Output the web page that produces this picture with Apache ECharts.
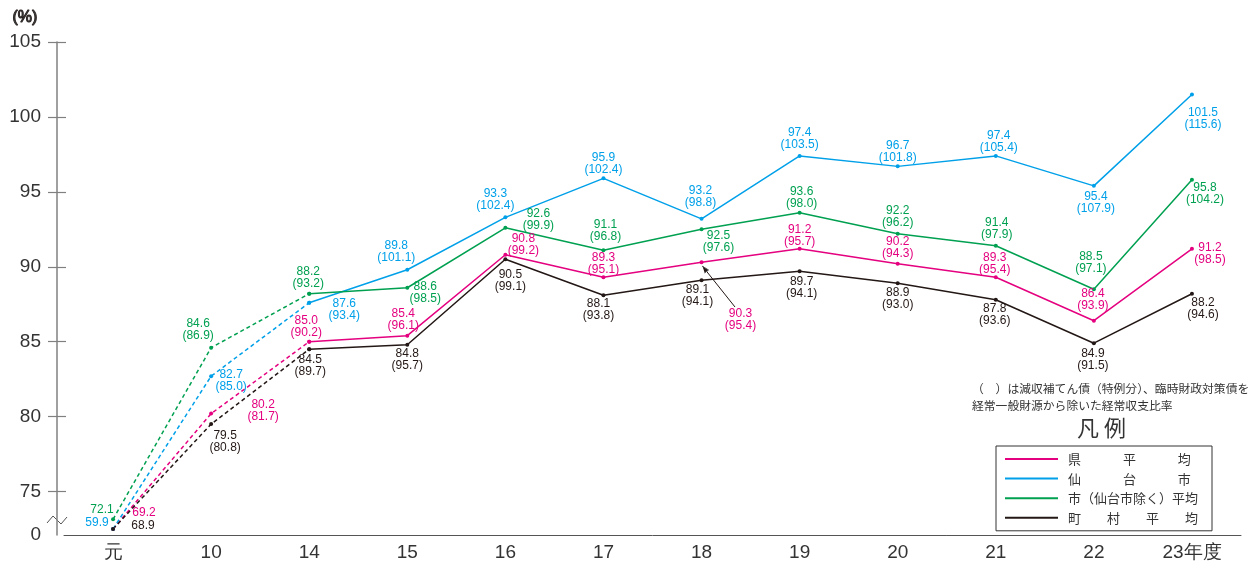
<!DOCTYPE html>
<html>
<head>
<meta charset="utf-8">
<script src="https://cdn.jsdelivr.net/npm/echarts@6/dist/echarts.min.js"></script>
<style>
  html, body { margin: 0; padding: 0; background: #fff; }
  #chart { width: 1251px; height: 562px; }
</style>
</head>
<body>
<div id="chart"></div>
<script>
  // 年度
  var years = ['元', '10', '14', '15', '16', '17', '18', '19', '20', '21', '22', '23年度'];

  // 経常収支比率 と （ ）内の値
  var kenAvg      = [69.2, 80.2, 85.0, 85.4, 90.8, 89.3, 90.3, 91.2, 90.2, 89.3, 86.4, 91.2];
  var kenAvgEx    = [null, 81.7, 90.2, 96.1, 99.2, 95.1, 95.4, 95.7, 94.3, 95.4, 93.9, 98.5];
  var sendai      = [59.9, 82.7, 87.6, 89.8, 93.3, 95.9, 93.2, 97.4, 96.7, 97.4, 95.4, 101.5];
  var sendaiEx    = [null, 85.0, 93.4, 101.1, 102.4, 102.4, 98.8, 103.5, 101.8, 105.4, 107.9, 115.6];
  var cityAvg     = [72.1, 84.6, 88.2, 88.6, 92.6, 91.1, 92.5, 93.6, 92.2, 91.4, 88.5, 95.8];
  var cityAvgEx   = [null, 86.9, 93.2, 98.5, 99.9, 96.8, 97.6, 98.0, 96.2, 97.9, 97.1, 104.2];
  var townAvg     = [68.9, 79.5, 84.5, 84.8, 90.5, 88.1, 89.1, 89.7, 88.9, 87.8, 84.9, 88.2];
  var townAvgEx   = [null, 80.8, 89.7, 95.7, 99.1, 93.8, 94.1, 94.1, 93.0, 93.6, 91.5, 94.6];

  var yTicks = [75, 80, 85, 90, 95, 100, 105];

  // 0〜75 の区間は省略（軸の下端）
  var AXIS_BOTTOM = 72.1;
  function breakY(v) {
    if (v >= 75) return v;
    return 72.5 + Math.max(0, v - 69.5) * 0.25;
  }

  // ラベル位置（点からのずれ）
  var kenOff    = [[31,-16],[52,-3],[-3,-15],[-4,-16],[18,-10],[0,-14],[39,57],[0,-13],[0,-16],[-1,-14],[-1,-21],[18,5]];
  var sendaiOff = [[-16,-6],[20,5],[35,7],[-11,-18],[-10,-18],[0,-15],[-1,-22],[0,-17],[0,-15],[3,-14],[2,17],[11,24]];
  var cityOff   = [[-11,-10],[-13,-18],[-1,-16],[18,5],[33,-8],[2,-20],[17,12],[2,-15],[0,-17],[1,-17],[-3,-27],[13,14]];
  var townOff   = [[30,-3],[14,18],[1,16],[0,15],[5,21],[-5,14],[-4,15],[2,16],[0,15],[-1,15],[-1,16],[11,15]];

  var NUM_FONT = '"Liberation Sans", Arial, sans-serif';
  var JP_FONT = '"Noto Sans CJK JP", sans-serif';

  var lines = [
    { name: '県　　　 平　　　 均', vals: kenAvg, ex: kenAvgEx, off: kenOff, color: '#e4007f' },
    { name: '仙　　　 台　　　 市', vals: sendai, ex: sendaiEx, off: sendaiOff, color: '#00a0e9' },
    { name: '市（仙台市除く）平均', vals: cityAvg, ex: cityAvgEx, off: cityOff, color: '#00a051' },
    { name: '町　　村　　平　　均', vals: townAvg, ex: townAvgEx, off: townOff, color: '#231815' }
  ];

  function makeData(l, from, to) {
    return l.vals.map(function (v, i) {
      if (i < from || i > to) return '-';
      return {
        value: breakY(v),
        label: { offset: l.off[i] }
      };
    });
  }

  var series = [];
  lines.forEach(function (l) {
    var label = {
      show: true,
      position: 'inside',
      align: 'center',
      verticalAlign: 'middle',
      color: l.color,
      fontFamily: NUM_FONT,
      fontSize: 12,
      lineHeight: 12,
      formatter: function (p) {
        var i = p.dataIndex;
        var s = l.vals[i].toFixed(1);
        if (l.ex[i] != null) s += '\n(' + l.ex[i].toFixed(1) + ')';
        return s;
      }
    };
    // 元〜14 は破線
    series.push({
      name: l.name + '_dash',
      type: 'line',
      data: makeData(l, 0, 2),
      symbol: 'circle',
      symbolSize: 4,
      lineStyle: { color: l.color, width: 1.5, type: [4, 3] },
      itemStyle: { color: l.color },
      label: Object.assign({}, label, {
        formatter: function (p) {
          if (p.dataIndex > 1) return '';
          return label.formatter(p);
        }
      }),
      z: 3
    });
    series.push({
      name: l.name,
      type: 'line',
      data: makeData(l, 2, 11),
      symbol: 'circle',
      symbolSize: 4,
      lineStyle: { color: l.color, width: 1.5 },
      itemStyle: { color: l.color },
      label: label,
      z: 4
    });
  });

  var chart = echarts.init(document.getElementById('chart'));
  chart.setOption({
    animation: false,
    backgroundColor: '#fff',
    grid: { left: 64, right: 10, top: 42, bottom: 26.5 },
    legend: {
      data: lines.map(function (l) { return l.name; }),
      orient: 'vertical',
      left: 996,
      top: 446,
      padding: [6, 14, 6, 9],
      itemGap: 5.6,
      itemWidth: 53,
      itemHeight: 2,
      icon: 'rect',
      borderColor: '#333',
      borderWidth: 1,
      textStyle: {
        color: '#333',
        fontFamily: JP_FONT,
        fontSize: 13,
        lineHeight: 14,
        padding: [0, 0, 0, 5]
      }
    },
    xAxis: {
      type: 'category',
      data: years,
      boundaryGap: true,
      axisLine: { lineStyle: { color: '#555', width: 1 } },
      axisTick: { show: false },
      axisLabel: { color: '#333', fontSize: 19, fontFamily: NUM_FONT, margin: 8 }
    },
    yAxis: [{
      type: 'value',
      min: AXIS_BOTTOM,
      max: 105,
      position: 'left',
      offset: 7,
      splitLine: { show: false },
      axisLine: { show: true, lineStyle: { color: '#808080', width: 1.5 } },
      axisTick: {
        show: true, inside: false, length: 9,
        customValues: yTicks,
        lineStyle: { color: '#808080', width: 1.2 }
      },
      axisLabel: {
        customValues: [AXIS_BOTTOM].concat(yTicks),
        formatter: function (v) { return v < 75 ? '0' : String(v); },
        color: '#333', fontSize: 19, fontFamily: NUM_FONT, margin: 16
      }
    }, {
      type: 'value',
      min: AXIS_BOTTOM,
      max: 105,
      position: 'left',
      offset: 7,
      splitLine: { show: false },
      axisLine: { show: false },
      axisTick: {
        show: true, inside: true, length: 9,
        customValues: yTicks,
        lineStyle: { color: '#808080', width: 1.2 }
      },
      axisLabel: { show: false }
    }],
    series: series,
    graphic: [
      { type: 'text', left: 12, top: 9,
        style: { text: '(%)', fill: '#333', font: '16px ' + NUM_FONT } },
      // x軸の左への延長
      { type: 'line', shape: { x1: 47, y1: 535.5, x2: 64, y2: 535.5 },
        style: { stroke: '#555', lineWidth: 1 } },
      // 省略記号
      { type: 'polyline', shape: { points: [[47, 514], [53, 507], [61, 515], [67, 508]] },
        style: { stroke: '#555', lineWidth: 1, fill: null } },
      { type: 'polyline', shape: { points: [[47, 523], [53, 516], [61, 524], [67, 517]] },
        style: { stroke: '#555', lineWidth: 1, fill: null } },
      // 注記
      { type: 'text', left: 972, top: 380,
        style: { text: '（　）は減収補てん債（特例分）、臨時財政対策債を\n経常一般財源から除いた経常収支比率',
                 fill: '#333', font: '11.8px ' + JP_FONT, lineHeight: 17 } },
      // 凡例の見出し
      { type: 'text', left: 1077, top: 417,
        style: { text: '凡 例', fill: '#333', font: '22px ' + JP_FONT } }
    ]
  });

  // 引き出し線
  var p10 = chart.convertToPixel({ seriesIndex: 0 }, [1, breakY(kenAvg[1])]);
  var p18 = chart.convertToPixel({ seriesIndex: 1 }, [6, breakY(kenAvg[6])]);
  var ang = Math.atan2(p18[1] + 3 - 307, p18[0] + 1 - 735);
  var tip = [p18[0] + 1, p18[1] + 4];
  chart.setOption({
    graphic: [
      { type: 'line', shape: { x1: p10[0] + 6, y1: p10[1], x2: p10[0] + 38, y2: p10[1] - 5 },
        style: { stroke: '#231815', lineWidth: 1 } },
      { type: 'line', shape: { x1: 735, y1: 307, x2: tip[0], y2: tip[1] },
        style: { stroke: '#231815', lineWidth: 1 } },
      { type: 'polygon', shape: { points: [
          tip,
          [tip[0] - 7 * Math.cos(ang - 0.35), tip[1] - 7 * Math.sin(ang - 0.35)],
          [tip[0] - 7 * Math.cos(ang + 0.35), tip[1] - 7 * Math.sin(ang + 0.35)]
        ] },
        style: { fill: '#231815' } }
    ]
  });
</script>
</body>
</html>
